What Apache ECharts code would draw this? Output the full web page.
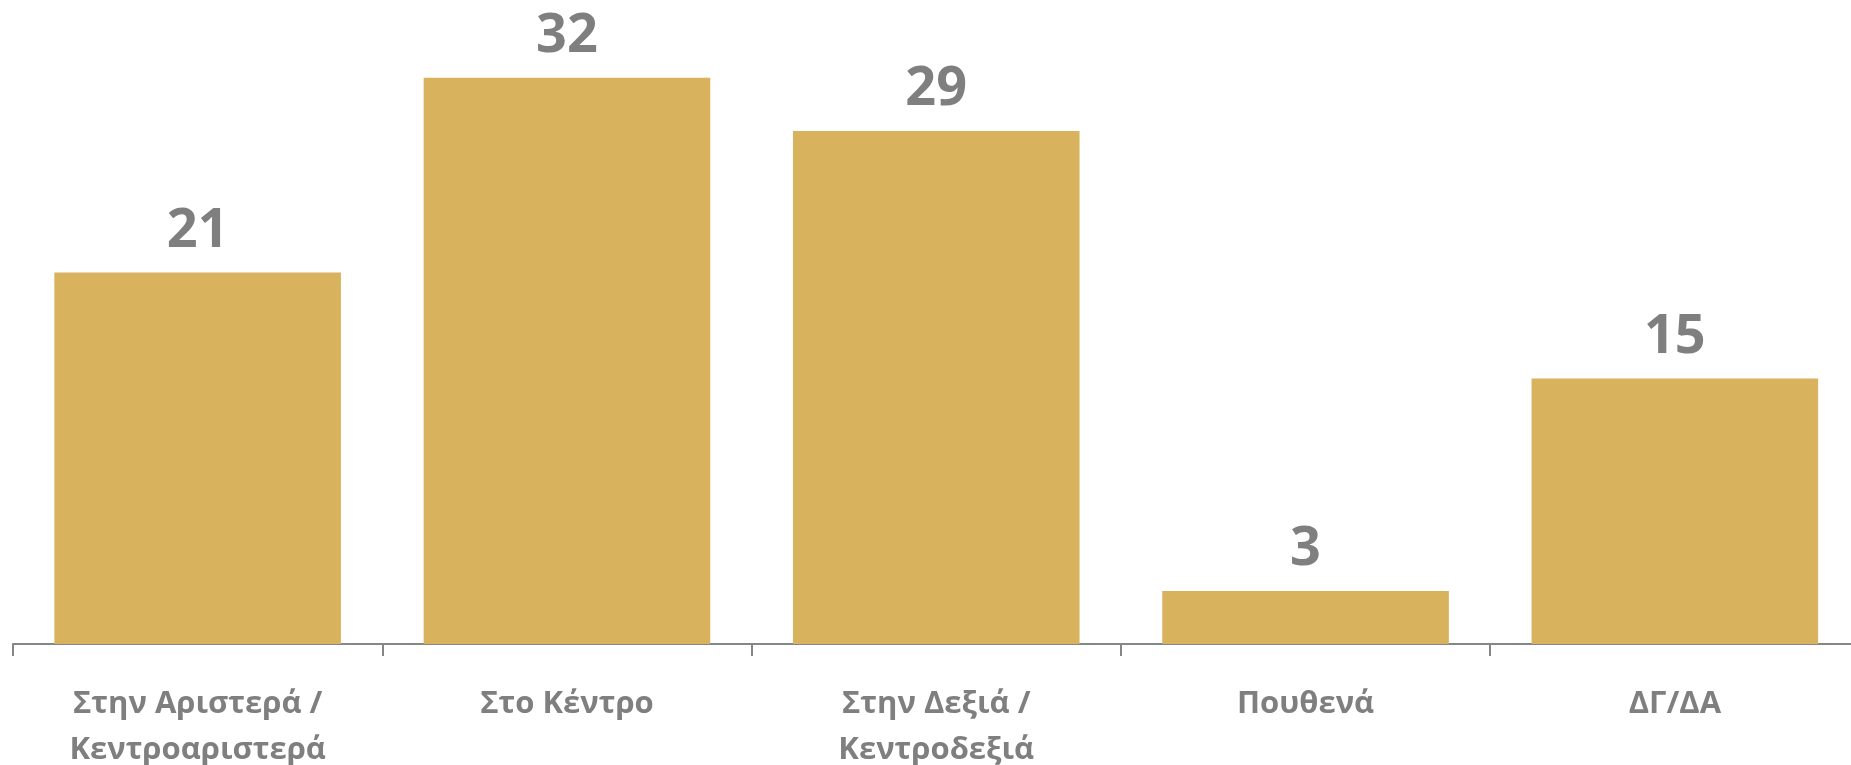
<!DOCTYPE html>
<html>
<head>
<meta charset="utf-8">
<script src="https://cdn.jsdelivr.net/npm/echarts@6/dist/echarts.min.js"></script>
<style>html,body{margin:0;padding:0;background:#fff}#c{width:1851px;height:765px}</style>
</head>
<body>
<div id="c"></div>
<script>
const categories = ['Στην Αριστερά /\nΚεντροαριστερά', 'Στο Κέντρο', 'Στην Δεξιά /\nΚεντροδεξιά', 'Πουθενά', 'ΔΓ/ΔΑ'];
const values = [21, 32, 29, 3, 15];

const chart = echarts.init(document.getElementById('c'));
chart.setOption({
  animation: false,
  grid: { left: 13, right: -8.5, top: 0, bottom: 121, containLabel: false, outerBoundsMode: 'none' },
  xAxis: {
    type: 'category',
    data: categories,
    axisLine: { lineStyle: { color: '#868686', width: 2 } },
    axisTick: { show: true, length: 12, lineStyle: { color: '#868686', width: 2 } },
    axisLabel: {
      color: '#7f7f7f', fontFamily: 'Open Sans', fontWeight: 'bold', fontSize: 31,
      lineHeight: 46, margin: 37, interval: 0
    }
  },
  yAxis: { type: 'value', min: 0, max: 36.4, show: false, splitLine: { show: false } },
  series: [{
    type: 'bar',
    data: values,
    barCategoryGap: '22.4%',
    itemStyle: { color: '#D8B25D' },
    label: {
      show: true, position: 'top', distance: 14,
      color: '#7f7f7f', fontFamily: 'Open Sans', fontWeight: 'bold', fontSize: 54
    }
  }]
});
</script>
</body>
</html>
